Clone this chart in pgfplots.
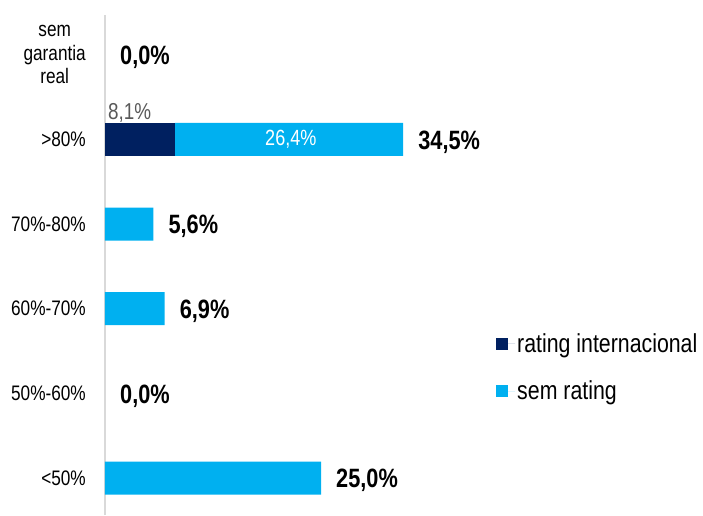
\documentclass[border=0pt]{standalone}
\usepackage{fontspec}
\setmainfont[FakeStretch=0.82]{Liberation Sans}
\usepackage{pgfplots}
\pgfplotsset{compat=1.18}
\definecolor{navy}{HTML}{002060}
\definecolor{sky}{HTML}{00B0F0}
\begin{document}
\begin{tikzpicture}[x=1pt,y=1pt]
\begin{axis}[
  at={(0,0)}, anchor=south west,
  scale only axis, width=598pt, height=500pt,
  xbar stacked, bar width=33pt,
  xmin=0, xmax=69.2, ymin=-0.437, ymax=5.47,
  axis x line=none, axis y line*=left,
  y axis line style={draw=black!15, line width=1.5pt},
  ytick={0,1,2,3,4,5},
  yticklabels={{<50\%},{50\%-60\%},{60\%-70\%},{70\%-80\%},{>80\%},{sem\\garantia\\real}},
  ytick style={draw=none},
  major tick length=0pt,
  yticklabel style={align=center, font=\fontsize{21}{23.5}\selectfont, inner sep=0pt, xshift=-19pt},
  legend style={at={(axis cs:45.25,1.73)}, anchor=north west, draw=none, fill=none,
    font=\fontsize{26}{26}\selectfont, row sep=23pt, inner sep=0pt,
    nodes={inner sep=2pt}},
  legend cell align=left,
  legend image code/.code={\fill[#1] (0pt,-6pt) rectangle (12pt,6pt); \path (12pt,0pt) -- (19pt,0pt);},
]
\addplot[fill=navy, draw=none] coordinates {(0,0) (0,1) (0,2) (0,3) (8.1,4) (0,5)};
\addplot[fill=sky, draw=none] coordinates {(25.0,0) (0,1) (6.9,2) (5.6,3) (26.4,4) (0,5)};
\legend{rating internacional, sem rating}
\coordinate (t0) at (axis cs:25.0,0);
\coordinate (t1) at (axis cs:0,1);
\coordinate (t2) at (axis cs:6.9,2);
\coordinate (t3) at (axis cs:5.6,3);
\coordinate (t4) at (axis cs:34.5,4);
\coordinate (t5) at (axis cs:0,5);
\coordinate (in4) at (axis cs:21.5,4);
\coordinate (a4) at (axis cs:0.35,4);
\end{axis}
\begin{scope}[every node/.style={anchor=west, inner sep=0pt, xshift=15pt, yshift=-2.5pt, text=black,
    font=\bfseries\fontsize{26.5}{26.5}\selectfont}]
\node at (t0) {25,0\%};
\node at (t1) {0,0\%};
\node at (t2) {6,9\%};
\node at (t3) {5,6\%};
\node at (t4) {34,5\%};
\node at (t5) {0,0\%};
\end{scope}
\node[anchor=base west, inner sep=0pt, text=black!65, font=\fontsize{23}{23}\selectfont]
  at (a4) [yshift=20pt] {8,1\%};
\node[anchor=center, inner sep=0pt, text=white, font=\fontsize{22}{22}\selectfont]
  at (in4) {26,4\%};
\pgfresetboundingbox
\path (-105,0) rectangle (598,515);
\end{tikzpicture}
\end{document}
